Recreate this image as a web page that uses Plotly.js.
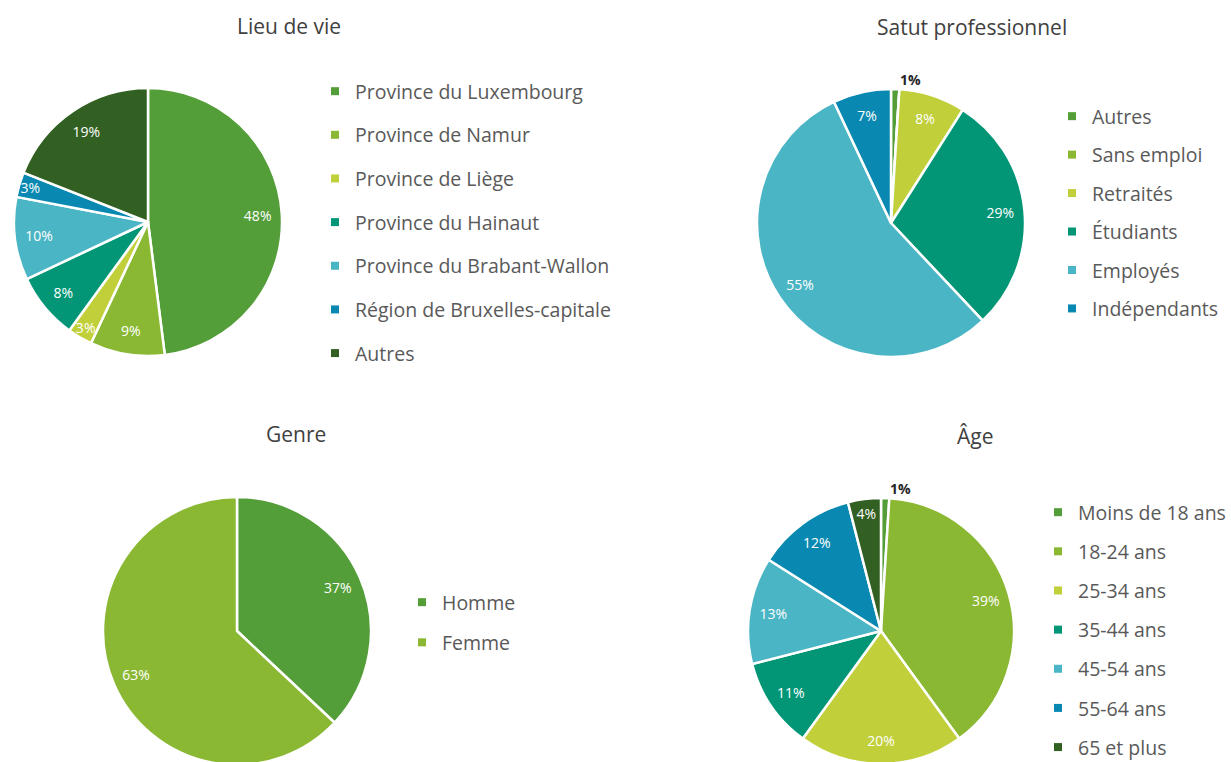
<!DOCTYPE html>
<html>
<head>
<meta charset="utf-8">
<script src="https://cdn.plot.ly/plotly-3.0.1.min.js"></script>
<style>
html,body{margin:0;padding:0;background:#ffffff;overflow:hidden;}
#chart{width:1231px;height:780px;}
</style>
</head>
<body>
<div id="chart"></div>
<script>
// ---- Data ----
const lieuLabels = ['Province du Luxembourg','Province de Namur','Province de Liège','Province du Hainaut','Province du Brabant-Wallon','Région de Bruxelles-capitale','Autres'];
const lieuValues = [48, 9, 3, 8, 10, 3, 19];

const statutLabels = ['Autres','Sans emploi','Retraités','Étudiants','Employés','Indépendants'];
const statutValues = [1, 0, 8, 29, 55, 7];

const genreLabels = ['Homme','Femme'];
const genreValues = [37, 63];

const ageLabels = ['Moins de 18 ans','18-24 ans','25-34 ans','35-44 ans','45-54 ans','55-64 ans','65 et plus'];
const ageValues = [1, 39, 20, 11, 13, 12, 4];

const chartTitles = ['Lieu de vie','Satut professionnel','Genre','Âge'];

// ---- Styling ----
const palette = ['#549E39','#8AB833','#C0CF3A','#029676','#4AB5C4','#0989B1','#325F22'];
const W = 1231, H = 780;
const FONT = 'Open Sans, Noto Sans, sans-serif';

function dom(cx, cy, r) {
  return {x: [(cx - r) / W, (cx + r) / W], y: [1 - (cy + r) / H, 1 - (cy - r) / H]};
}

const charts = [
  {labels: lieuLabels, values: lieuValues, geo: [148, 222, 134], legend: 'legend',  lx: 315,  ly: 72,  gap: 15.3, title: [289, 26]},
  {labels: statutLabels, values: statutValues, geo: [891, 223, 134], legend: 'legend2', lx: 1052, ly: 97,  gap: 10.1, title: [972, 27]},
  {labels: genreLabels, values: genreValues, geo: [237, 631, 134], legend: 'legend3', lx: 402,  ly: 583, gap: 11.8, title: [296, 434]},
  {labels: ageLabels, values: ageValues, geo: [881, 631, 133], legend: 'legend4', lx: 1038, ly: 493, gap: 10.8, title: [975, 436]}
];

const traces = [];
const layout = {
  width: W, height: H,
  margin: {l: 0, r: 0, t: 0, b: 0},
  paper_bgcolor: '#ffffff', plot_bgcolor: '#ffffff',
  font: {family: FONT},
  xaxis: {visible: false}, yaxis: {visible: false},
  uniformtext: {minsize: 14, mode: 'show'},
  annotations: []
};

charts.forEach((c, k) => {
  const d = dom(c.geo[0], c.geo[1], c.geo[2]);
  // coloured slices
  traces.push({
    type: 'pie',
    labels: c.labels,
    values: c.values,
    sort: false,
    direction: 'clockwise',
    rotation: 0,
    domain: d,
    marker: {colors: palette.slice(0, c.labels.length), line: {color: '#ffffff', width: 2.5}},
    textinfo: 'none',
    showlegend: false,
    hoverinfo: 'label+percent'
  });
  // data labels (transparent ring so labels sit near the rim)
  traces.push({
    type: 'pie',
    labels: c.labels,
    values: c.values,
    sort: false,
    direction: 'clockwise',
    rotation: 0,
    hole: 0.64,
    domain: d,
    marker: {colors: c.labels.map(() => 'rgba(0,0,0,0)'), line: {width: 0}},
    text: c.values.map(v => v > 0 ? v + '%' : ''),
    textinfo: 'text',
    textposition: c.values.map(v => v <= 1 ? 'outside' : 'inside'),
    insidetextorientation: 'horizontal',
    insidetextfont: {family: FONT, size: 14, color: '#ffffff'},
    outsidetextfont: {family: FONT, size: 13, color: '#262626', weight: 'bold'},
    showlegend: false,
    hoverinfo: 'skip'
  });
  c.labels.forEach((lab, i) => {
    traces.push({
      type: 'scatter', mode: 'markers',
      x: [null], y: [null],
      name: lab,
      legend: c.legend,
      legendgroup: c.legend + '_' + i,
      marker: {symbol: 'square', size: 8, color: palette[i]},
      hoverinfo: 'skip'
    });
  });
  layout[c.legend] = {
    x: c.lx / W, y: 1 - c.ly / H, xref: 'paper', yref: 'paper',
    xanchor: 'left', yanchor: 'top',
    orientation: 'v', traceorder: 'grouped', tracegroupgap: c.gap,
    bgcolor: 'rgba(0,0,0,0)', borderwidth: 0,
    itemclick: false, itemdoubleclick: false,
    font: {family: FONT, size: 19.5, color: '#595959'}
  };
  layout.annotations.push({
    text: chartTitles[k], xref: 'paper', yref: 'paper',
    x: c.title[0] / W, y: 1 - c.title[1] / H,
    xanchor: 'center', yanchor: 'middle', showarrow: false,
    font: {family: FONT, size: 21, color: '#404040'}
  });
});

Plotly.newPlot('chart', traces, layout, {displayModeBar: false, responsive: false});
</script>
</body>
</html>
